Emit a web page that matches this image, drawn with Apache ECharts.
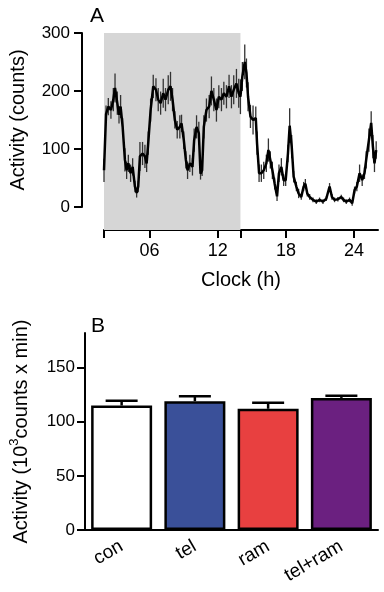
<!DOCTYPE html>
<html>
<head>
<meta charset="utf-8">
<script src="https://cdn.jsdelivr.net/npm/echarts@6/dist/echarts.min.js"></script>
<style>
  html, body { margin: 0; padding: 0; background: #fff; }
  #main { width: 384px; height: 592px; }
</style>
</head>
<body>
<div id="main"></div>
<script>
// panel A : activity over the day (mean and SEM)
var hours = [2.00,2.18,2.38,2.61,2.82,2.97,3.17,3.32,3.46,3.64,
  3.84,3.99,4.14,4.34,4.52,4.72,4.87,5.01,5.16,5.39,
  5.60,5.75,5.89,6.10,6.33,6.57,6.77,6.98,7.21,7.41,
  7.65,7.85,8.03,8.23,8.44,8.67,8.82,9.02,9.20,9.35,
  9.55,9.78,9.93,10.14,10.34,10.49,10.63,10.78,11.01,11.25,
  11.45,11.66,11.89,12.10,12.33,12.54,12.77,13.00,13.21,13.41,
  13.65,13.85,14.00,14.17,14.38,14.53,14.67,14.88,15.11,15.35,
  15.46,15.64,15.84,16.05,16.28,16.46,16.63,16.81,17.01,17.22,
  17.39,17.60,17.80,17.98,18.18,18.33,18.51,18.68,18.92,19.12,
  19.35,19.56,19.71,19.88,20.09,20.38,20.67,20.96,21.26,21.55,
  21.84,22.05,22.28,22.57,22.87,23.07,23.31,23.60,23.83,24.04,
  24.24,24.48,24.71,24.91,25.06,25.30,25.50,25.65,25.79,25.94];
var activity = [63,160,173,167,185,205,179,159,173,138,
  81,63,75,58,69,35,24,35,87,92,
  87,75,110,167,208,202,185,179,196,185,
  202,208,185,150,133,138,144,115,81,63,
  75,69,115,138,127,57,63,138,167,173,
  200,185,167,190,185,196,190,208,190,202,
  213,196,190,225,250,231,190,156,150,153,
  110,58,58,63,75,98,81,63,40,18,
  58,69,46,46,92,140,104,52,35,23,
  17,35,40,23,17,12,9,12,9,14,
  35,17,12,13,17,12,9,12,6,29,
  35,58,46,58,81,115,145,104,75,98];
var activitySem = [20,15,15,15,20,25,20,15,20,15,
  20,15,15,15,15,10,8,10,25,20,
  20,15,20,20,20,20,20,20,25,20,
  25,25,20,15,15,20,15,15,15,15,
  15,15,20,20,20,10,10,20,20,20,
  25,20,20,20,20,20,20,20,20,25,
  25,25,30,25,30,25,25,20,25,20,
  20,15,15,15,15,20,15,15,10,8,
  15,15,10,10,15,30,20,10,8,8,
  5,8,8,5,5,4,4,4,4,4,
  6,5,4,4,4,4,4,4,4,6,
  8,15,10,10,15,20,20,20,15,15];
var darkPhase = [2, 14];
var clockTicks = [2, 6, 12, 14, 18, 24];
var clockLabels = [6, 12, 18, 24];

// panel B : total activity per group
var groups = ['con', 'tel', 'ram', 'tel+ram'];
var totals = [115, 119, 112, 122];
var totalsSem = [4.5, 4.5, 5.5, 2];
var groupColors = ['#ffffff', '#3a5099', '#e84040', '#6b2080'];

var font = 'Liberation Sans, Arial, sans-serif';
var myChart = echarts.init(document.getElementById('main'));

var lineData = hours.map(function (h, i) { return [h, activity[i]]; });
var semData = hours.map(function (h, i) { return [h, activity[i] - activitySem[i], activity[i] + activitySem[i]]; });
var barData = totals.map(function (v, i) {
  return { value: v, itemStyle: { color: groupColors[i] } };
});
var barSemData = totals.map(function (v, i) { return [i, v, v + totalsSem[i]]; });

option = {
  animation: false,
  textStyle: { fontFamily: font, color: '#000' },
  title: [
    { text: 'A', left: 85, top: 1, textStyle: { fontFamily: font, fontSize: 21, fontWeight: 'normal', color: '#000' } },
    { text: 'B', left: 86, top: 311, textStyle: { fontFamily: font, fontSize: 21, fontWeight: 'normal', color: '#000' } }
  ],
  grid: [
    { left: 104, top: 33, width: 274, height: 197 },
    { left: 80, top: 33, width: 298, height: 174 },
    { left: 82, top: 333, width: 296, height: 197 }
  ],
  xAxis: [
    {
      gridIndex: 0, type: 'value', min: 2, max: 26.1,
      name: 'Clock (h)', nameLocation: 'middle', nameGap: 40,
      nameTextStyle: { fontSize: 20, color: '#000' },
      axisLine: { onZero: false, lineStyle: { color: '#000', width: 2 } },
      axisTick: { customValues: clockTicks, length: 8, lineStyle: { color: '#000', width: 2 } },
      axisLabel: {
        customValues: clockLabels, fontSize: 18, color: '#000', margin: 12,
        formatter: function (v) { return (v < 10 ? '0' : '') + v; }
      },
      splitLine: { show: false }
    },
    { gridIndex: 1, type: 'value', min: 0, max: 1, show: false },
    {
      gridIndex: 2, type: 'category', data: groups,
      axisLine: { lineStyle: { color: '#000', width: 2 } },
      axisTick: { show: false },
      axisLabel: { rotate: 30, fontSize: 19, color: '#000', margin: 15 }
    }
  ],
  yAxis: [
    { gridIndex: 0, type: 'value', min: -40, max: 300, show: false },
    {
      gridIndex: 1, type: 'value', min: 0, max: 300, interval: 100,
      name: 'Activity (counts)', nameLocation: 'middle', nameGap: 54,
      nameTextStyle: { fontSize: 20, color: '#000' },
      axisLine: { show: true, lineStyle: { color: '#000', width: 2 } },
      axisTick: { show: true, length: 8, lineStyle: { color: '#000', width: 2 } },
      axisLabel: { fontSize: 17, color: '#000', margin: 12 },
      splitLine: { show: false }
    },
    {
      gridIndex: 2, type: 'value', min: 0, max: 182,
      name: '{n|Activity (10}{s|3}{n|counts x min)}', nameLocation: 'middle', nameGap: 51,
      nameTextStyle: {
        rich: {
          n: { fontSize: 20, color: '#000', fontFamily: font },
          s: { fontSize: 13, color: '#000', fontFamily: font, verticalAlign: 'top', lineHeight: 26 }
        }
      },
      axisLine: { show: true, lineStyle: { color: '#000', width: 2 } },
      axisTick: { show: true, customValues: [0, 50, 100, 150], length: 8, lineStyle: { color: '#000', width: 2 } },
      axisLabel: { customValues: [0, 50, 100, 150], fontSize: 17, color: '#000', margin: 10 },
      splitLine: { show: false }
    }
  ],
  series: [
    {
      type: 'custom', xAxisIndex: 0, yAxisIndex: 0, z: 2,
      data: semData,
      renderItem: function (params, api) {
        var p1 = api.coord([api.value(0), api.value(1)]);
        var p2 = api.coord([api.value(0), api.value(2)]);
        return {
          type: 'line',
          shape: { x1: p1[0], y1: p1[1], x2: p2[0], y2: p2[1] },
          style: { stroke: '#333', lineWidth: 1.3 }
        };
      }
    },
    {
      type: 'line', xAxisIndex: 0, yAxisIndex: 0, z: 3,
      data: lineData, showSymbol: false, symbol: 'none',
      lineStyle: { color: '#000', width: 2.5 },
      markArea: {
        silent: true,
        itemStyle: { color: '#d6d6d6' },
        data: [[{ xAxis: darkPhase[0] }, { xAxis: darkPhase[1] }]]
      }
    },
    {
      type: 'bar', xAxisIndex: 2, yAxisIndex: 2,
      data: barData, barWidth: 61,
      itemStyle: { borderColor: '#000', borderWidth: 2.5 }
    },
    {
      type: 'custom', xAxisIndex: 2, yAxisIndex: 2, z: 3,
      data: barSemData,
      renderItem: function (params, api) {
        var base = api.coord([api.value(0), api.value(1)]);
        var top = api.coord([api.value(0), api.value(2)]);
        var st = { stroke: '#000', lineWidth: 2.5 };
        return {
          type: 'group',
          children: [
            { type: 'line', shape: { x1: base[0], y1: base[1], x2: top[0], y2: top[1] }, style: st },
            { type: 'line', shape: { x1: top[0] - 16, y1: top[1], x2: top[0] + 16, y2: top[1] }, style: st }
          ]
        };
      }
    }
  ]
};

myChart.setOption(option);
</script>
</body>
</html>
